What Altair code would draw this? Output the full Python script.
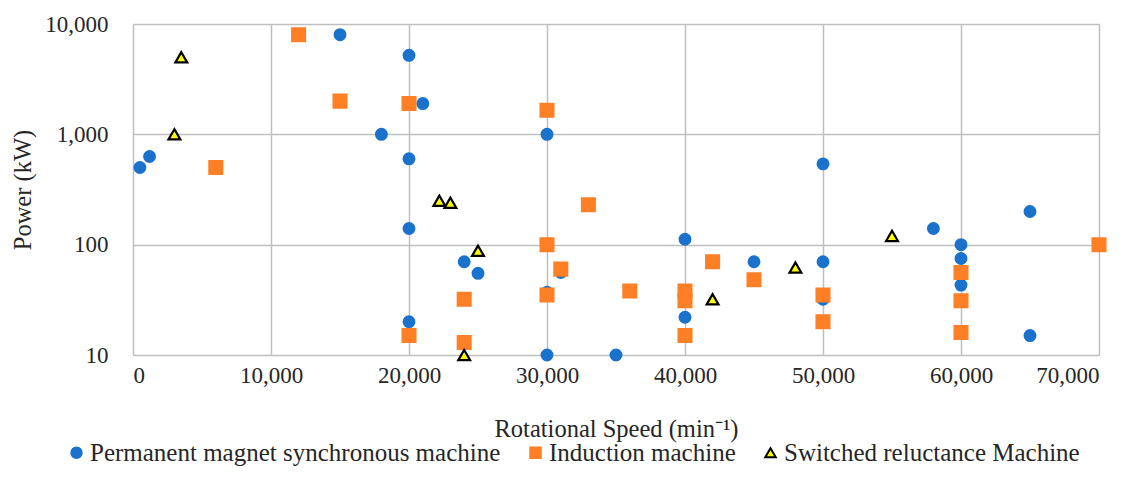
import altair as alt
import pandas as pd

# Permanent magnet synchronous machine
pmsm_speed = [500, 1200, 15000, 20000, 18000, 20000, 21000, 30000, 50000, 20000, 20000,
              24000, 25000, 31000, 30000, 30000, 35000, 40000, 40000, 45000, 50000, 50000,
              58000, 60000, 60000, 60000, 65000, 65000]
pmsm_power = [500, 630, 8000, 5200, 1000, 600, 1900, 1000, 540, 140, 20,
              70, 55, 56, 37, 10, 10, 112, 22, 70, 70, 32,
              140, 100, 75, 43, 200, 15]

# Induction machine
im_speed = [6000, 12000, 15000, 20000, 20000, 24000, 24000, 30000, 30000, 30000, 31000,
            33000, 36000, 40000, 40000, 40000, 42000, 45000, 50000, 50000, 60000, 60000,
            60000, 70000]
im_power = [500, 8000, 2000, 1900, 15, 32, 13, 1650, 100, 35, 60,
            230, 38, 38, 31, 15, 70, 48, 35, 20, 56, 31,
            16, 100]

# Switched reluctance machine
srm_speed = [3000, 3500, 22200, 23000, 24000, 25000, 42000, 48000, 55000]
srm_power = [1000, 5000, 250, 240, 10, 88, 32, 62, 120]

names = ["Permanent magnet synchronous machine", "Induction machine",
         "Switched reluctance Machine"]
x_ticks = [0, 10000, 20000, 30000, 40000, 50000, 60000, 70000]
y_ticks = [10, 100, 1000, 10000]

rows = []
for s, p in zip(pmsm_speed, pmsm_power):
    rows.append({"speed": s, "power": p, "type": names[0], "sz": 115})
for s, p in zip(im_speed, im_power):
    rows.append({"speed": s, "power": p, "type": names[1], "sz": 165})
for s, p in zip(srm_speed, srm_power):
    rows.append({"speed": s, "power": p, "type": names[2], "sz": 140})
df = pd.DataFrame(rows)
df["ord"] = range(len(df))

FONT = "'Liberation Serif', 'Times New Roman', Times, serif"
GRID = "#bfbfbf"
TXT = "#262626"

leg = dict(title=None, orient="none", direction="horizontal", legendX=-69, legendY=416)

chart = alt.Chart(df).mark_point(filled=True, opacity=1, strokeWidth=2.2).encode(
    x=alt.X("speed:Q",
            scale=alt.Scale(domain=[0, 70000], nice=False, zero=True),
            axis=alt.Axis(values=x_ticks, format=",.0f", title="Rotational Speed (min⁻¹)",
                          grid=True, gridColor=GRID, gridWidth=1.5, domain=False,
                          ticks=False, labelPadding=9, labelFontSize=23,
                          titleFontSize=24.5, titleFontWeight="normal",
                          titleY=74, titleBaseline="middle")),
    y=alt.Y("power:Q",
            scale=alt.Scale(type="log", domain=[10, 10000], nice=False),
            axis=alt.Axis(values=y_ticks, format=",", title="Power (kW)",
                          grid=True, gridColor=GRID, gridWidth=1.5, domain=False,
                          ticks=False, labelPadding=25, labelFontSize=23,
                          titleFontSize=24.5, titleFontWeight="normal",
                          titleX=-110, titleBaseline="middle")),
    color=alt.Color("type:N",
                    scale=alt.Scale(domain=names, range=["#1a72cc", "#ff7f27", "#ffff00"]),
                    legend=alt.Legend(labelFontSize=25, symbolSize=110, labelLimit=1000,
                                      symbolStrokeWidth=2, columnPadding=22,
                                      labelOffset=1, **leg)),
    shape=alt.Shape("type:N",
                    scale=alt.Scale(domain=names, range=["circle", "square", "triangle-up"]),
                    legend=alt.Legend(**leg)),
    stroke=alt.Stroke("type:N",
                      scale=alt.Scale(domain=names, range=["#1a72cc", "#ff7f27", "#000000"]),
                      legend=alt.Legend(**leg)),
    size=alt.Size("sz:Q", scale=None, legend=None),
    order=alt.Order("ord:Q"),
).properties(
    width=966, height=331,
    autosize=alt.AutoSizeParams(type="none"),
    padding={"left": 125, "top": 16, "right": 30, "bottom": 116},
).configure_view(stroke=None).configure(
    font=FONT,
).configure_axis(labelColor=TXT, titleColor=TXT, labelFont=FONT, titleFont=FONT
).configure_legend(labelFont=FONT, labelColor=TXT, labelLimit=1000)

chart.save("out.html", embed_options={"renderer": "svg", "actions": False})
